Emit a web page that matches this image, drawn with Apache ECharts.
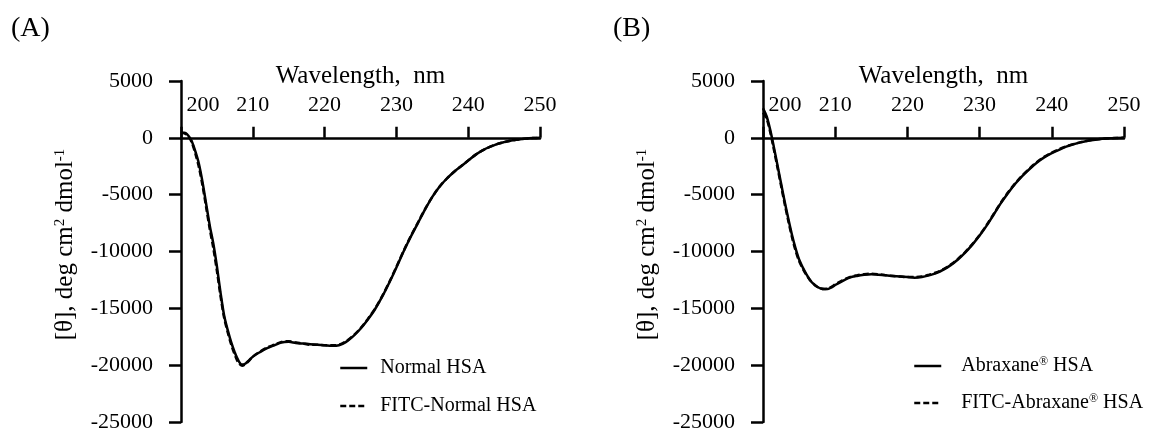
<!DOCTYPE html>
<html>
<head>
<meta charset="utf-8">
<title>CD spectra</title>
<script src="https://cdn.jsdelivr.net/npm/echarts@6/dist/echarts.min.js"></script>
<style>
  html, body { margin: 0; padding: 0; background: #fff; }
  #chart { width: 1157px; height: 433px; }
</style>
</head>
<body>
<div id="chart"></div>
<script>
// wavelength grid (nm), shared by all four curves
var wavelengths = [200, 200.5, 201, 201.5, 202, 202.5, 203, 203.5, 204, 204.5,
  205, 205.5, 206, 206.5, 207, 207.5, 208, 208.5, 209, 209.5, 210,
  211, 212, 213, 214, 215, 216, 217, 218, 219, 220,
  221, 222, 223, 224, 225, 226, 227, 228, 229, 230,
  231, 232, 233, 234, 235, 236, 237, 238, 239, 240,
  241, 242, 243, 244, 245, 246, 247, 248, 249, 250];

// (A) mean residue ellipticity
var normalHSA = [400, 450, 200, -300, -1200, -2300, -3900, -5800, -7700, -9300,
  -11300, -13600, -15600, -16900, -18000, -18900, -19600, -19950, -19850, -19550, -19250,
  -18850, -18500, -18250, -18000, -17950, -18050, -18100, -18150, -18200, -18250,
  -18300, -18250, -17950, -17450, -16800, -16000, -15100, -14000, -12750, -11400,
  -10000, -8700, -7500, -6300, -5200, -4300, -3600, -3000, -2500, -2000,
  -1500, -1100, -800, -550, -380, -240, -140, -70, -25, 0];
var fitcNormalHSA = [500, 400, 150, -400, -1400, -2600, -4200, -6100, -8000, -9700,
  -11700, -13900, -15800, -17100, -18200, -19100, -19800, -20050, -19900, -19600, -19250,
  -18800, -18450, -18200, -17950, -17900, -18000, -18100, -18200, -18200, -18250,
  -18250, -18200, -17900, -17400, -16750, -15950, -15050, -13950, -12700, -11350,
  -9950, -8650, -7450, -6250, -5200, -4300, -3600, -3000, -2500, -2000,
  -1500, -1100, -800, -550, -380, -240, -140, -70, -25, 0];

// (B)
var abraxaneHSA = [2600, 1900, 700, -800, -2400, -4000, -5600, -7100, -8500, -9700,
  -10700, -11400, -12000, -12500, -12850, -13100, -13250, -13300, -13300, -13150, -12950,
  -12600, -12300, -12150, -12050, -12000, -12050, -12100, -12150, -12200, -12250,
  -12300, -12250, -12100, -11900, -11600, -11200, -10700, -10100, -9400, -8600,
  -7700, -6700, -5700, -4800, -4000, -3300, -2700, -2150, -1700, -1350,
  -1050, -780, -570, -400, -260, -160, -90, -45, -15, 0];
var fitcAbraxaneHSA = [2200, 1700, 500, -1000, -2600, -4200, -5800, -7300, -8700, -9900,
  -10850, -11500, -12050, -12500, -12850, -13100, -13250, -13300, -13250, -13100, -12900,
  -12550, -12250, -12100, -12000, -11950, -12000, -12100, -12150, -12200, -12250,
  -12250, -12200, -12050, -11850, -11550, -11150, -10650, -10050, -9350, -8550,
  -7650, -6650, -5650, -4750, -3950, -3250, -2650, -2100, -1650, -1300,
  -1000, -750, -550, -380, -250, -150, -85, -40, -12, 0];

var xTicks = { min: 200, max: 250, interval: 10 };
var yTicks = { min: -25000, max: 5000, interval: 5000 };

var FONT = 'Liberation Serif';

function pairs(values) {
  return wavelengths.map(function (w, i) { return [w, values[i]]; });
}

function makeX(idx) {
  return {
    type: 'value', gridIndex: idx, position: 'top',
    min: xTicks.min, max: xTicks.max, interval: xTicks.interval,
    name: 'Wavelength,  nm', nameLocation: 'middle', nameGap: -8,
    nameTextStyle: { fontFamily: FONT, fontSize: 25, color: '#000' },
    axisLine: { onZero: true, lineStyle: { color: '#000', width: 2.5 } },
    axisTick: { show: true, inside: false, length: 11, lineStyle: { color: '#000', width: 2.5 } },
    axisLabel: {
      fontFamily: FONT, fontSize: 22, color: '#000', margin: -35, alignMinLabel: 'left',
      // Excel nudges the first label off the value axis
      formatter: function (v) { return v === xTicks.min ? ' ' + v : String(v); }
    },
    splitLine: { show: false }
  };
}

function makeY(idx) {
  return {
    type: 'value', gridIndex: idx,
    min: yTicks.min, max: yTicks.max, interval: yTicks.interval,
    name: '[θ], deg cm{sup|2} dmol{sup|-1}', nameLocation: 'middle', nameRotate: 90, nameGap: 103,
    nameTextStyle: {
      fontFamily: FONT, fontSize: 25, color: '#000', padding: [0, 0, 0, 14],
      rich: { sup: { fontFamily: FONT, fontSize: 15, color: '#000', verticalAlign: 'top', padding: [0, 0, 10, 0] } }
    },
    axisLine: { show: true, onZero: false, lineStyle: { color: '#000', width: 2.5 } },
    axisTick: { show: true, inside: false, length: 12, lineStyle: { color: '#000', width: 2.5 } },
    axisLabel: {
      fontFamily: FONT, fontSize: 22, color: '#000', margin: 28,
      formatter: function (v) { return String(v); }
    },
    splitLine: { show: false }
  };
}

function makeLine(name, idx, values, dashed) {
  return {
    name: name, type: 'line', xAxisIndex: idx, yAxisIndex: idx,
    data: pairs(values), showSymbol: false, symbol: 'none', smooth: 0.3,
    lineStyle: { color: '#000', width: 2.5, type: dashed ? [6, 3] : 'solid' },
    itemStyle: { color: '#000' },
    z: dashed ? 3 : 2
  };
}

var legendText = { fontFamily: FONT, fontSize: 20, color: '#000' };
var supRich = { sup: { fontFamily: FONT, fontSize: 12, color: '#000', verticalAlign: 'top', padding: [0, 0, 8, 0] } };

var chart = echarts.init(document.getElementById('chart'), null, { renderer: 'canvas' });
chart.setOption({
  backgroundColor: '#fff',
  animation: false,
  title: [
    { text: '(A)', left: 11, top: 15, padding: 0, textStyle: { fontFamily: FONT, fontSize: 28, fontWeight: 'normal', color: '#000' } },
    { text: '(B)', left: 613, top: 15, padding: 0, textStyle: { fontFamily: FONT, fontSize: 28, fontWeight: 'normal', color: '#000' } }
  ],
  grid: [
    { left: 181, top: 81, width: 359, height: 341 },
    { left: 763, top: 81, width: 361, height: 341 }
  ],
  xAxis: [makeX(0), makeX(1)],
  yAxis: [makeY(0), makeY(1)],
  legend: [
    {
      data: ['Normal HSA', 'FITC-Normal HSA'], orient: 'vertical', left: 339, top: 358, padding: 0,
      itemWidth: 27, itemHeight: 14, itemGap: 18,
      itemStyle: { opacity: 0 },
      lineStyle: { width: 2.5 },
      textStyle: Object.assign({ padding: [0, 0, 0, 8] }, legendText)
    },
    {
      data: ['Abraxane® HSA', 'FITC-Abraxane® HSA'], orient: 'vertical', left: 913, top: 356, padding: 0,
      itemWidth: 27, itemHeight: 14, itemGap: 17,
      itemStyle: { opacity: 0 },
      lineStyle: { width: 2.5 },
      formatter: function (n) { return n.replace('®', '{sup|®}'); },
      textStyle: Object.assign({ padding: [0, 0, 0, 15], rich: supRich }, legendText)
    }
  ],
  series: [
    makeLine('Normal HSA', 0, normalHSA, false),
    makeLine('FITC-Normal HSA', 0, fitcNormalHSA, true),
    makeLine('Abraxane® HSA', 1, abraxaneHSA, false),
    makeLine('FITC-Abraxane® HSA', 1, fitcAbraxaneHSA, true)
  ]
});
</script>
</body>
</html>
